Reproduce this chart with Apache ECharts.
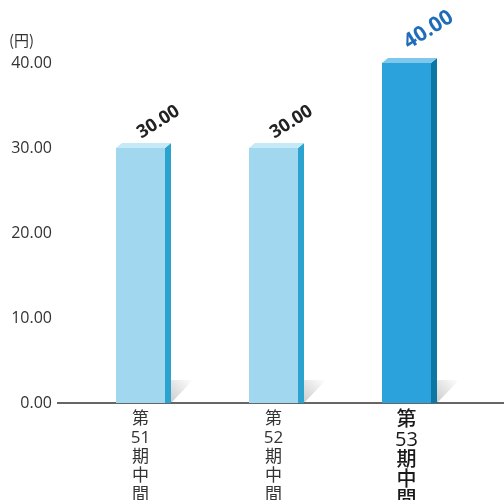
<!DOCTYPE html>
<html><head><meta charset="utf-8">
<script src="https://cdn.jsdelivr.net/npm/echarts@6/dist/echarts.min.js"></script>
<style>html,body{margin:0;padding:0;background:#fff}#c{width:504px;height:500px}</style>
</head><body><div id="c"></div>
<script>
const categories = ['第\n51\n期\n中\n間', '第\n52\n期\n中\n間', '第\n53\n期\n中\n間'];
const values = [30, 30, 40];
const valueLabels = ['30.00', '30.00', '40.00'];
const yTicks = [0, 10, 20, 30, 40];
const unitLabel = '(円)';

const styles = [
  {front:'#a2d7f0', top:'#c6e9f8', side:'#2aa3cf', label:'#222', size:18},
  {front:'#a2d7f0', top:'#c6e9f8', side:'#2aa3cf', label:'#222', size:18},
  {front:'#2ba2dc', top:'#7ec8ec', side:'#0b77a5', label:'#1f6cb8', size:21}
];

const chart = echarts.init(document.getElementById('c'), null, {renderer:'canvas'});
chart.setOption({
  animation:false,
  grid:{left:74, right:31, top:63, bottom:97, outerBoundsMode:'none', containLabel:false},
  xAxis:{type:'category', data:categories,
    axisLine:{show:false}, axisTick:{show:false},
    axisLabel:{margin:7, fontFamily:'Open Sans, Noto Sans CJK JP', fontSize:17, lineHeight:19, color:'#333',
      formatter:(v, i) => i === 2 ? '{b|' + v + '}' : v,
      rich:{b:{fontSize:20, lineHeight:20, fontWeight:500, color:'#1a1a1a', fontFamily:'Open Sans, Noto Sans CJK JP'}}}
  },
  yAxis:{type:'value', min:yTicks[0], max:yTicks[yTicks.length-1], interval:10,
    axisLine:{show:false}, axisTick:{show:false}, splitLine:{show:false},
    axisLabel:{margin:22, fontFamily:'Open Sans', fontSize:16, color:'#333', formatter:v => v.toFixed(2)}
  },
  graphic:[
    {type:'line', shape:{x1:57, y1:403, x2:504, y2:403}, style:{stroke:'#333', lineWidth:1.5}},
    {type:'text', left:9, top:33, style:{text:unitLabel, font:'15px "Noto Sans CJK JP"', fill:'#333'}}
  ],
  series:[{
    type:'custom',
    data:values.map((v,i)=>[i,v]),
    renderItem:(params, api) => {
      const i = api.value(0), v = api.value(1);
      const base = api.coord([i, 0]);
      const top = api.coord([i, v]);
      const w = 49, dx = 6, dy = 5;
      const x0 = base[0] - w/2, x1 = base[0] + w/2;
      const st = styles[i];
      return {type:'group', children:[
        {type:'polygon', shape:{points:[[x1+dx, base[1]-23],[x1+dx+22, base[1]-23],[x1+dx, base[1]]]},
          style:{fill:new echarts.graphic.LinearGradient(0,1,1,0,[{offset:0,color:'rgba(0,0,0,0.2)'},{offset:1,color:'rgba(0,0,0,0)'}])}},
        {type:'rect', shape:{x:x0, y:top[1], width:w, height:base[1]-top[1]}, style:{fill:st.front}},
        {type:'polygon', shape:{points:[[x1, top[1]],[x1+dx, top[1]-dy],[x1+dx, base[1]],[x1, base[1]]]}, style:{fill:st.side}},
        {type:'polygon', shape:{points:[[x0, top[1]],[x0+dx, top[1]-dy],[x1+dx, top[1]-dy],[x1, top[1]]]}, style:{fill:st.top}},
        {type:'text', x: base[0] + (i===2?22:18), y: top[1] - (i===2?33:26), rotation:0.56,
          style:{text:valueLabels[i], fill:st.label, font:'bold '+st.size+'px "Open Sans"', align:'center', verticalAlign:'middle'}}
      ]};
    }
  }]
});
</script></body></html>
